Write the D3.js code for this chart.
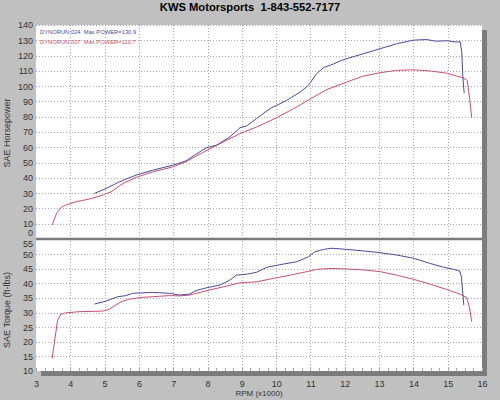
<!DOCTYPE html>
<html>
<head>
<meta charset="utf-8">
<script src="https://cdn.jsdelivr.net/npm/d3@7/dist/d3.min.js"></script>
<style>
  body { margin: 0; background: #c0c0c0; }
  svg { display: block; font-family: "Liberation Sans", Arial, sans-serif; }
  .tick text { fill: #333; }
</style>
</head>
<body>
<svg id="chart" width="500" height="400"></svg>
<script>
"use strict";

// axis ticks
var rpmTicks = d3.range(3, 17);
var hpTicks = d3.range(0, 141, 10);
var tqTicks = d3.range(10, 56, 5);

// dyno runs, [rpm x1000, value]
var run024Power = [
  [4.70, 29.8], [5.04, 33.0], [5.43, 37.4], [5.92, 41.8], [6.40, 45.0], [6.99, 48.3],
  [7.37, 51.1], [7.62, 54.8], [7.97, 59.8], [8.27, 61.4], [8.65, 66.8], [8.95, 72.9],
  [9.14, 74.0], [9.43, 78.8], [9.82, 85.3], [10.31, 90.7], [10.70, 96.1], [10.94, 100.5],
  [11.18, 108.2], [11.38, 112.1], [11.67, 114.5], [11.86, 116.4], [12.06, 118.0],
  [12.54, 121.2], [13.03, 124.5], [13.51, 127.7], [14.00, 130.1], [14.20, 130.3],
  [14.39, 130.5], [14.55, 129.8], [14.68, 129.4], [14.97, 129.7], [15.26, 128.8],
  [15.36, 129.2], [15.41, 122.3], [15.44, 107.0], [15.48, 95.4]
];
var run007Power = [
  [3.47, 9.1], [3.60, 16.8], [3.73, 20.7], [3.87, 22.2], [4.17, 24.4], [4.55, 26.1],
  [4.94, 28.7], [5.19, 30.9], [5.53, 36.3], [5.92, 40.3], [6.40, 43.9], [6.99, 47.2],
  [7.37, 50.5], [7.69, 54.5], [8.27, 61.4], [8.95, 69.0], [9.43, 73.3], [10.02, 79.4],
  [10.60, 86.4], [11.09, 92.9], [11.47, 97.7], [11.86, 101.0], [12.06, 102.7],
  [12.54, 106.6], [13.03, 108.8], [13.51, 110.3], [14.00, 110.7], [14.49, 109.9],
  [14.97, 108.5], [15.26, 106.6], [15.46, 105.3], [15.57, 103.8], [15.65, 89.6], [15.70, 79.2]
];
var run024Torque = [
  [4.70, 32.9], [5.04, 33.9], [5.38, 35.4], [5.62, 35.8], [5.82, 36.6], [6.40, 36.9],
  [6.89, 36.6], [7.18, 36.0], [7.47, 36.3], [7.66, 37.5], [7.98, 38.5], [8.36, 39.4],
  [8.65, 41.1], [8.84, 42.8], [9.14, 43.1], [9.43, 43.8], [9.73, 45.5], [10.21, 46.6],
  [10.60, 47.4], [10.94, 49.1], [11.13, 50.8], [11.38, 51.6], [11.60, 52.0], [11.86, 51.8],
  [12.06, 51.6], [12.54, 51.1], [13.03, 50.5], [13.51, 49.7], [14.00, 48.6], [14.49, 46.8],
  [14.88, 45.5], [15.17, 44.8], [15.35, 44.2], [15.40, 42.3], [15.44, 36.6], [15.47, 32.6]
];
var run007Torque = [
  [3.47, 14.3], [3.56, 21.7], [3.63, 27.4], [3.73, 29.5], [3.87, 29.9], [4.26, 30.3],
  [4.94, 30.5], [5.13, 31.1], [5.33, 32.6], [5.48, 33.7], [5.72, 34.6], [6.11, 35.2],
  [6.89, 35.8], [7.18, 35.7], [7.49, 36.0], [7.98, 37.5], [8.46, 38.8], [8.95, 40.2],
  [9.43, 40.5], [9.92, 41.7], [10.41, 42.8], [10.89, 44.0], [11.18, 44.8], [11.57, 45.1],
  [12.06, 44.9], [12.54, 44.6], [13.03, 44.0], [13.51, 42.8], [14.00, 41.4], [14.49, 39.7],
  [14.97, 37.9], [15.36, 36.3], [15.55, 35.2], [15.63, 32.0], [15.70, 26.9]
];

var runs = [
  { name: "DYNORUN.024", maxPower: "130.9", color: "#4b4b9c", power: run024Power, torque: run024Torque },
  { name: "DYNORUN.007", maxPower: "110.7", color: "#c9506f", power: run007Power, torque: run007Torque }
];

var svg = d3.select("#chart");

// plot frame (top panel = power, bottom panel = torque)
var plotL = 36, plotR = 482, plotT = 25, plotSplit = 239, plotB = 371;

var x = d3.scaleLinear().domain([3, 16]).range([plotL, plotR]);
var yHp = d3.scaleLinear().domain([0, 140]).range([plotSplit, plotT]);
var yTq = d3.scaleLinear().domain([10, 55]).range([plotB, plotSplit + 0.5]);

// title
svg.append("text")
  .attr("x", 250)
  .attr("y", 11)
  .attr("text-anchor", "middle")
  .style("font-weight", "bold")
  .style("font-size", "11.2px")
  .style("fill", "#000")
  .style("white-space", "pre")
  .text("KWS Motorsports  1-843-552-7177");

// drop shadow + white plot area
svg.append("rect")
  .attr("x", plotL + 5).attr("y", plotT + 5)
  .attr("width", plotR - plotL).attr("height", plotB - plotT)
  .attr("fill", "#7c7c7c");
svg.append("rect")
  .attr("x", plotL).attr("y", plotT)
  .attr("width", plotR - plotL).attr("height", plotB - plotT)
  .attr("fill", "#fff");

// dotted grid
var grid = svg.append("g")
  .attr("stroke", "#a8a8a8")
  .attr("stroke-width", 1)
  .attr("stroke-dasharray", "1,2");

grid.selectAll("line.vx")
  .data(rpmTicks.filter(d => d > 3 && d < 16))
  .enter().append("line")
  .attr("x1", d => Math.round(x(d)) + 0.5).attr("x2", d => Math.round(x(d)) + 0.5)
  .attr("y1", plotT).attr("y2", plotB);

grid.selectAll("line.hp")
  .data(hpTicks.filter(d => d > 0))
  .enter().append("line")
  .attr("x1", plotL).attr("x2", plotR)
  .attr("y1", d => Math.round(yHp(d)) + 0.5).attr("y2", d => Math.round(yHp(d)) + 0.5);

grid.selectAll("line.tq")
  .data(tqTicks.filter(d => d > 10 && d < 55))
  .enter().append("line")
  .attr("x1", plotL).attr("x2", plotR)
  .attr("y1", d => Math.round(yTq(d)) + 0.5).attr("y2", d => Math.round(yTq(d)) + 0.5);

// minor rpm ticks along the bottom edge
svg.append("g")
  .attr("stroke", "#aaa")
  .selectAll("line")
  .data(d3.range(3, 16.01, 0.25))
  .enter().append("line")
  .attr("x1", d => Math.round(x(d)) + 0.5).attr("x2", d => Math.round(x(d)) + 0.5)
  .attr("y1", plotB - 3).attr("y2", plotB);

// panel separator
svg.append("line")
  .attr("x1", plotL).attr("x2", plotR)
  .attr("y1", plotSplit).attr("y2", plotSplit)
  .attr("stroke", "#7a7a7a")
  .attr("stroke-width", 2.5);

// curves
var hpLine = d3.line().x(d => x(d[0])).y(d => yHp(d[1]));
var tqLine = d3.line().x(d => x(d[0])).y(d => yTq(d[1]));

runs.slice().reverse().forEach(function(r) {
  svg.append("path")
    .datum(r.power)
    .attr("fill", "none")
    .attr("stroke", r.color)
    .attr("stroke-width", 1)
    .attr("d", hpLine);
  svg.append("path")
    .datum(r.torque)
    .attr("fill", "none")
    .attr("stroke", r.color)
    .attr("stroke-width", 1)
    .attr("d", tqLine);
});

// legend
svg.selectAll("text.legend")
  .data(runs)
  .enter().append("text")
  .attr("class", "legend")
  .attr("x", 40)
  .attr("y", (d, i) => 33.5 + i * 10)
  .style("font-size", "5.8px")
  .style("fill", d => d.color)
  .style("white-space", "pre")
  .text(d => d.name + "  Max POWER=" + d.maxPower);

// axes
var hpAxis = svg.append("g")
  .attr("transform", "translate(" + (plotL - 3) + ",0)")
  .call(d3.axisLeft(yHp).tickValues(hpTicks).tickSize(0).tickPadding(0));
// the 0 and 55 labels share the split line, push them apart
hpAxis.selectAll(".tick text")
  .filter(d => d === 0)
  .attr("dy", "-0.35em");

var tqAxis = svg.append("g")
  .attr("transform", "translate(" + (plotL - 3) + ",0)")
  .call(d3.axisLeft(yTq).tickValues(tqTicks).tickSize(0).tickPadding(0));
tqAxis.selectAll(".tick text")
  .filter(d => d === 55)
  .attr("dy", "0.8em");

var xAxis = svg.append("g")
  .attr("transform", "translate(0," + (plotB + 10) + ")")
  .call(d3.axisBottom(x).tickValues(rpmTicks).tickSize(0).tickPadding(0));

[hpAxis, tqAxis, xAxis].forEach(function(a) {
  a.select(".domain").remove();
  a.selectAll(".tick text")
    .style("font-family", "\"Liberation Sans\", Arial, sans-serif")
    .style("font-size", "9px");
});

// axis titles
svg.append("text")
  .attr("transform", "translate(10,133) rotate(-90)")
  .attr("text-anchor", "middle")
  .style("font-size", "9px")
  .style("fill", "#333")
  .text("SAE Horsepower");

svg.append("text")
  .attr("transform", "translate(10,310) rotate(-90)")
  .attr("text-anchor", "middle")
  .style("font-size", "9px")
  .style("fill", "#333")
  .text("SAE Torque (ft-lbs)");

svg.append("text")
  .attr("x", (plotL + plotR) / 2)
  .attr("y", 396)
  .attr("text-anchor", "middle")
  .style("font-size", "8px")
  .style("fill", "#333")
  .text("RPM (x1000)");
</script>
</body>
</html>
